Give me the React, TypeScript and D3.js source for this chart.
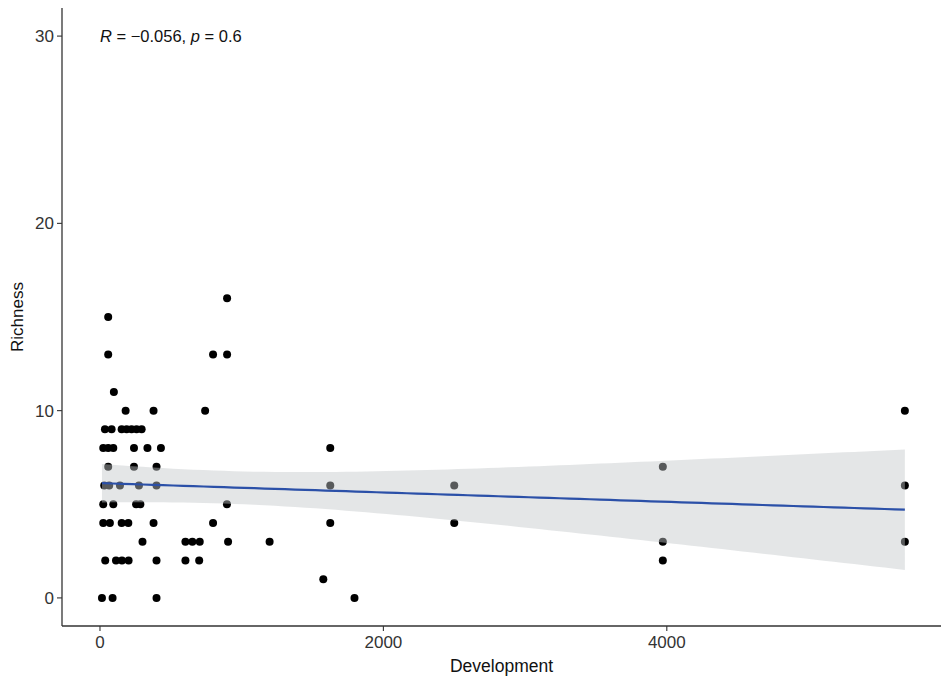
import React from "react";
import * as d3 from "d3";

// Development (x) and Richness (y) for each sampled site
const development = [
  58,
  58, 798, 897,
  897,
  98,
  181, 378, 742, 5680,
  35, 82, 153, 188, 223, 258, 294,
  23, 58, 94, 240, 335, 430, 1625,
  58, 240, 399, 3972,
  30, 65, 141, 275, 399, 1625, 2500, 5680,
  23, 94, 255, 285, 896,
  23, 70, 153, 200, 378, 798, 1625, 2500,
  300, 603, 652, 704, 904, 1197, 3972, 5680,
  37, 113, 155, 202, 399, 603, 700, 3972,
  1576,
  14, 89, 399, 1796,
];
const richness = [
  15,
  13, 13, 13,
  16,
  11,
  10, 10, 10, 10,
  9, 9, 9, 9, 9, 9, 9,
  8, 8, 8, 8, 8, 8, 8,
  7, 7, 7, 7,
  6, 6, 6, 6, 6, 6, 6, 6,
  5, 5, 5, 5, 5,
  4, 4, 4, 4, 4, 4, 4, 4,
  3, 3, 3, 3, 3, 3, 3, 3,
  2, 2, 2, 2, 2, 2, 2, 2,
  1,
  0, 0, 0, 0,
];

const xTicks = [0, 2000, 4000];
const yTicks = [0, 10, 20, 30];
const statLabel = { r: "\u22120.056", p: "0.6" };

const W = 941;
const H = 680;
const M = { left: 62, right: 941, top: 8, bottom: 626 };

// Ordinary least squares with a 95% confidence band
function fitLinear(xs: number[], ys: number[]) {
  const n = xs.length;
  const mx = d3.mean(xs) as number;
  const my = d3.mean(ys) as number;
  let sxx = 0;
  let sxy = 0;
  for (let i = 0; i < n; i++) {
    sxx += (xs[i] - mx) ** 2;
    sxy += (xs[i] - mx) * (ys[i] - my);
  }
  const b = sxy / sxx;
  const a = my - b * mx;
  let sse = 0;
  for (let i = 0; i < n; i++) sse += (ys[i] - a - b * xs[i]) ** 2;
  const s = Math.sqrt(sse / (n - 2));
  const t = 1.995; // t quantile, 97.5%, df ~ 68
  const [lo, hi] = d3.extent(xs) as [number, number];
  const grid = d3.range(80).map((i) => lo + ((hi - lo) * i) / 79);
  return grid.map((x) => {
    const fit = a + b * x;
    const se = s * Math.sqrt(1 / n + (x - mx) ** 2 / sxx);
    return { x, fit, lower: fit - t * se, upper: fit + t * se };
  });
}

export default function App() {
  const x = d3.scaleLinear().domain([-268, 5935]).range([M.left, M.right]);
  const y = d3.scaleLinear().domain([-1.5, 31.5]).range([M.bottom, M.top]);

  const band = fitLinear(development, richness);
  const area = d3
    .area<{ x: number; lower: number; upper: number }>()
    .x((d) => x(d.x))
    .y0((d) => y(d.lower))
    .y1((d) => y(d.upper));
  const line = d3
    .line<{ x: number; fit: number }>()
    .x((d) => x(d.x))
    .y((d) => y(d.fit));

  const font = "'Liberation Sans', Arial, Helvetica, sans-serif";

  return (
    <svg
      width={W}
      height={H}
      style={{ position: "absolute", left: 0, top: 0, background: "#fff" }}
      fontFamily={font}
    >
      {development.map((d, i) => (
        <circle key={i} cx={x(d)} cy={y(richness[i])} r={4} fill="#000" />
      ))}
      <path d={area(band) ?? ""} fill="#c3c7ca" fillOpacity={0.45} />
      <path d={line(band) ?? ""} fill="none" stroke="#2b50a8" strokeWidth={2.2} />

      {/* axes */}
      <line x1={M.left} x2={M.left} y1={M.top} y2={M.bottom} stroke="#333" strokeWidth={1.3} />
      <line x1={M.left} x2={M.right} y1={M.bottom} y2={M.bottom} stroke="#333" strokeWidth={1.3} />
      {yTicks.map((t) => (
        <g key={t}>
          <line x1={M.left - 5} x2={M.left} y1={y(t)} y2={y(t)} stroke="#333" strokeWidth={1.1} />
          <text
            x={M.left - 8}
            y={y(t)}
            dy="0.36em"
            textAnchor="end"
            fontSize={17}
            fill="#333"
          >
            {t}
          </text>
        </g>
      ))}
      {xTicks.map((t) => (
        <g key={t}>
          <line x1={x(t)} x2={x(t)} y1={M.bottom} y2={M.bottom + 5} stroke="#333" strokeWidth={1.1} />
          <text x={x(t)} y={M.bottom + 22} textAnchor="middle" fontSize={17} fill="#333">
            {t}
          </text>
        </g>
      ))}
      <text x={(M.left + M.right) / 2} y={672} textAnchor="middle" fontSize={17.5} fill="#111">
        Development
      </text>
      <text
        transform={`translate(23, ${(M.top + M.bottom) / 2}) rotate(-90)`}
        textAnchor="middle"
        fontSize={17}
        fill="#111"
      >
        Richness
      </text>
      <text x={x(0)} y={y(30)} dy="0.36em" fontSize={16.5} fill="#111">
        <tspan fontStyle="italic">R</tspan>
        {` = ${statLabel.r}, `}
        <tspan fontStyle="italic">p</tspan>
        {` = ${statLabel.p}`}
      </text>
    </svg>
  );
}
